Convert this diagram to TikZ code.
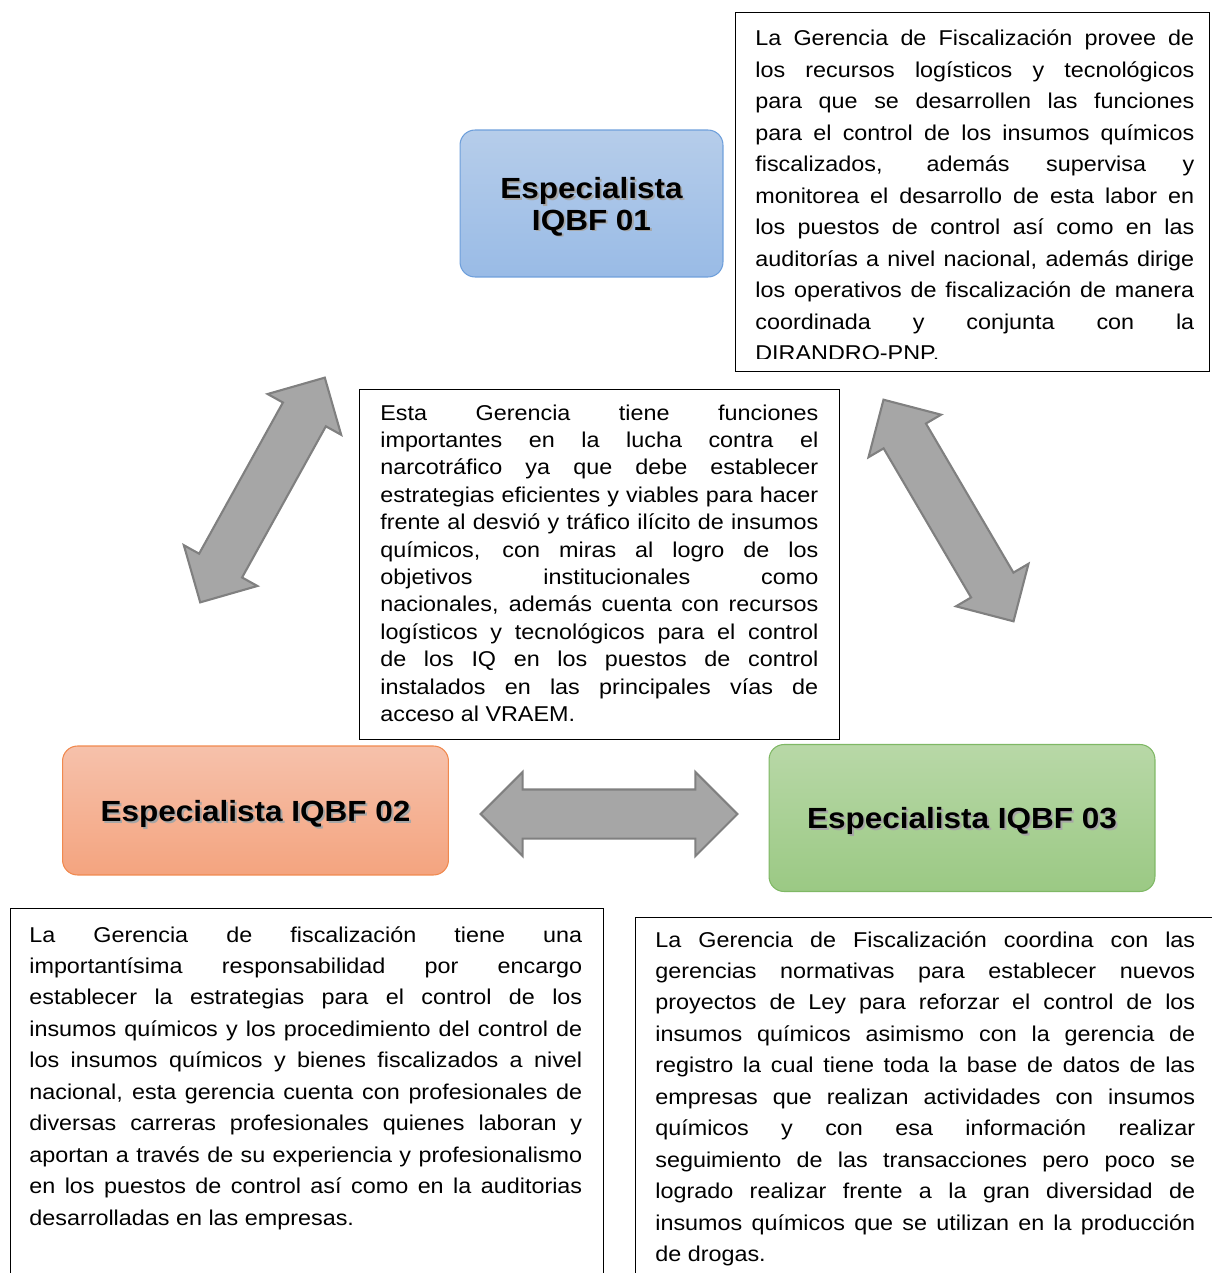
\documentclass[tikz,border=0pt]{standalone}
\usepackage{fontspec}
\setmainfont{Liberation Sans}[FakeStretch=1.09]
\newfontfamily\titlefont{Liberation Sans}[FakeStretch=1.08]
\usetikzlibrary{shapes.arrows}
\usepackage{xcolor}
\definecolor{blueTop}{HTML}{B6CDEA}
\definecolor{blueBot}{HTML}{99BBE6}
\definecolor{blueLine}{HTML}{6E9FDB}
\definecolor{orangeTop}{HTML}{F6C1AB}
\definecolor{orangeBot}{HTML}{F4A47F}
\definecolor{orangeLine}{HTML}{F0894E}
\definecolor{greenTop}{HTML}{B8D8A7}
\definecolor{greenBot}{HTML}{9BC984}
\definecolor{greenLine}{HTML}{7FB865}
\definecolor{arrowFill}{HTML}{A6A6A6}
\definecolor{arrowLine}{HTML}{808080}

\newcommand{\shd}[1]{\leavevmode\rlap{\hspace{1.1pt}\raisebox{-1.1pt}{\color{black!35}#1}}#1}
\newcommand{\loosepar}{\tolerance=10000 \hyphenpenalty=10000\relax}

\begin{document}
\begin{tikzpicture}[
  x=0.02cm, y=-0.02cm,
  every node/.style={inner sep=0pt},
  spec/.style={draw, rounded corners=0.3cm, line width=0.6pt, align=center, text depth=0pt,
               font=\titlefont\bfseries\fontsize{16.6}{18.2}\selectfont},
  specA/.style={spec, top color=blueTop, bottom color=blueBot, draw=blueLine,
                minimum width=5.26cm, minimum height=2.94cm},
  specB/.style={spec, top color=orangeTop, bottom color=orangeBot, draw=orangeLine,
                minimum width=7.72cm, minimum height=2.58cm},
  specC/.style={spec, top color=greenTop, bottom color=greenBot, draw=greenLine,
                minimum width=7.72cm, minimum height=2.94cm},
  frame/.style={draw=black, line width=0.8pt, anchor=north west},
  body/.style={align=justify, anchor=base west,
               font=\fontsize{12.2}{17.9}\selectfont\loosepar},
  bigarrow/.style={double arrow, draw=arrowLine, fill=arrowFill, line width=1.2pt,
                   inner xsep=0pt, inner ysep=0.47cm, double arrow head extend=0.35cm,
                   minimum height=5.14cm},
]
\useasboundingbox (0,0) rectangle (1211,1273);

%% Especialistas
\node[specA] (esp1) at (591.5,203.5) {\shd{Especialista}\\\shd{IQBF 01}};
\node[specB] (esp2) at (255.5,810.5) {\shd{Especialista IQBF 02}};
\node[specC] (esp3) at (962,818) {\shd{Especialista IQBF 03}};

%% Flechas dobles
\node[bigarrow, rotate=61] (arr12) at (262.5,490) {};
\node[bigarrow, rotate=-59.6] (arr13) at (948.5,510.5) {};
\node[bigarrow] (arr23) at (609,814) {};

%% Cuadro superior derecho
\node[frame, minimum width=9.48cm, minimum height=7.18cm] (fr1) at (735,12) {};
\begin{scope}
  \clip (735,12) rectangle (1209,359);
  \node[body, text width=8.78cm] (tx1) at (755,46)
    {La Gerencia de Fiscalización provee de\linebreak
     los recursos logísticos y tecnológicos\linebreak
     para que se desarrollen las funciones\linebreak
     para el control de los insumos químicos\linebreak
     fiscalizados, además supervisa y\linebreak
     monitorea el desarrollo de esta labor en\linebreak
     los puestos de control así como en las\linebreak
     auditorías a nivel nacional, además dirige\linebreak
     los operativos de fiscalización de manera\linebreak
     coordinada y conjunta con la\linebreak
     DIRANDRO-PNP.};
\end{scope}

%% Cuadro central
\node[frame, minimum width=9.6cm, minimum height=7.0cm] (fr0) at (359,389) {};
\node[body, text width=8.76cm, font=\fontsize{12.2}{15.6}\selectfont\loosepar] (tx0) at (380,420)
  {Esta Gerencia tiene funciones\linebreak
   importantes en la lucha contra el\linebreak
   narcotráfico ya que debe establecer\linebreak
   estrategias eficientes y viables para hacer\linebreak
   frente al desvió y tráfico ilícito de insumos\linebreak
   químicos, con miras al logro de los\linebreak
   objetivos institucionales como\linebreak
   nacionales, además cuenta con recursos\linebreak
   logísticos y tecnológicos para el control\linebreak
   de los IQ en los puestos de control\linebreak
   instalados en las principales vías de\linebreak
   acceso al VRAEM.};

%% Cuadro inferior izquierdo
\node[frame, minimum width=11.86cm, minimum height=7.84cm] (fr2) at (10,908) {};
\node[body, text width=11.06cm] (tx2) at (29,942)
  {La Gerencia de fiscalización tiene una\linebreak
   importantísima responsabilidad por encargo\linebreak
   establecer la estrategias para el control de los\linebreak
   insumos químicos y los procedimiento del control de\linebreak
   los insumos químicos y bienes fiscalizados a nivel\linebreak
   nacional, esta gerencia cuenta con profesionales de\linebreak
   diversas carreras profesionales quienes laboran y\linebreak
   aportan a través de su experiencia y profesionalismo\linebreak
   en los puestos de control así como en la auditorias\linebreak
   desarrolladas en las empresas.};

%% Cuadro inferior derecho
\node[frame, minimum width=12.4cm, minimum height=7.66cm] (fr3) at (635,917) {};
\node[body, text width=10.8cm] (tx3) at (655,947)
  {La Gerencia de Fiscalización coordina con las\linebreak
   gerencias normativas para establecer nuevos\linebreak
   proyectos de Ley para reforzar el control de los\linebreak
   insumos químicos asimismo con la gerencia de\linebreak
   registro la cual tiene toda la base de datos de las\linebreak
   empresas que realizan actividades con insumos\linebreak
   químicos y con esa información realizar\linebreak
   seguimiento de las transacciones pero poco se\linebreak
   logrado realizar frente a la gran diversidad de\linebreak
   insumos químicos que se utilizan en la producción\linebreak
   de drogas.};

\end{tikzpicture}
\end{document}
